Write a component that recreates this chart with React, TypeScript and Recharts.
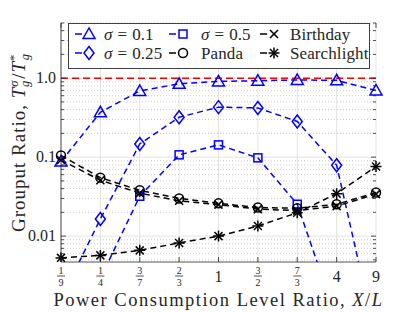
import React from 'react';
import { LineChart, Line, XAxis, YAxis, CartesianGrid, ReferenceLine, Legend, Label } from 'recharts';

// ---------- data ----------
const ratioLabels = ['1/9', '1/4', '3/7', '2/3', '1', '3/2', '7/3', '4', '9'];
const sigma01 = [0.088, 0.37, 0.69, 0.85, 0.91, 0.93, 0.95, 0.94, 0.7];
const sigma025 = [0.0016, 0.0165, 0.147, 0.32, 0.43, 0.42, 0.283, 0.079, 0.0005];
const sigma05 = [0.0002, 0.0029, 0.032, 0.107, 0.143, 0.098, 0.0253, 0.0009, 0.00001];
const birthday = [0.092, 0.051, 0.035, 0.028, 0.025, 0.022, 0.021, 0.024, 0.034];
const panda = [0.105, 0.055, 0.038, 0.03, 0.026, 0.023, 0.0225, 0.0253, 0.0356];
const searchlight = [0.0053, 0.0057, 0.0066, 0.0082, 0.01, 0.0134, 0.0198, 0.0345, 0.076];

const majorTicks = [0.01, 0.1, 1];
const majorTickLabels = ['0.01', '0.1', '1.0'];
const minorTicks = [
  0.005, 0.006, 0.007, 0.008, 0.009,
  0.02, 0.03, 0.04, 0.05, 0.06, 0.07, 0.08, 0.09,
  0.2, 0.3, 0.4, 0.5, 0.6, 0.7, 0.8, 0.9,
  2, 3, 4, 5,
];
const yDomain = [0.0047, 5];
const optimumLine = 1;

const seriesNames = ['σ = 0.1', 'σ = 0.25', 'σ = 0.5', 'Panda', 'Birthday', 'Searchlight'];

const data = ratioLabels.map((x, i) => ({
  x,
  s01: sigma01[i],
  s025: sigma025[i],
  s05: sigma05[i],
  birthday: birthday[i],
  panda: panda[i],
  searchlight: searchlight[i],
}));

// ---------- layout / style ----------
const W = 399;
const H = 304;
const M = { top: 15, right: 31, bottom: 0, left: 0 };
const Y_W = 53;
const X_H = 50;
const PLOT_L = M.left + Y_W;
const PLOT_T = M.top;
const PLOT_W = W - M.right - PLOT_L;
const FONT = "'Liberation Serif', 'DejaVu Serif', serif";
const TXT = '#262626';
const BLUE = '#0000ff';
const BLACK = '#000000';
const fs = (size: number, extra: any = {}) => ({ fontFamily: FONT, fontSize: size, ...extra });

// ---------- markers ----------
type MP = { cx: number; cy: number; color: string };
const Tri = ({ cx, cy, color }: MP) => (
  <polygon points={`${cx},${cy - 6} ${cx - 6},${cy + 4.5} ${cx + 6},${cy + 4.5}`} fill="none" stroke={color} strokeWidth={1.5} />
);
const Dia = ({ cx, cy, color }: MP) => (
  <polygon points={`${cx},${cy - 6.5} ${cx + 5},${cy} ${cx},${cy + 6.5} ${cx - 5},${cy}`} fill="none" stroke={color} strokeWidth={1.5} />
);
const Sq = ({ cx, cy, color }: MP) => (
  <rect x={cx - 4} y={cy - 4} width={8} height={8} fill="none" stroke={color} strokeWidth={1.5} />
);
const Circ = ({ cx, cy, color }: MP) => <circle cx={cx} cy={cy} r={4.5} fill="none" stroke={color} strokeWidth={1.5} />;
const XMark = ({ cx, cy, color }: MP) => (
  <g stroke={color} strokeWidth={1.6}>
    <line x1={cx - 4} y1={cy - 4} x2={cx + 4} y2={cy + 4} />
    <line x1={cx - 4} y1={cy + 4} x2={cx + 4} y2={cy - 4} />
  </g>
);
const Star = ({ cx, cy, color }: MP) => (
  <g stroke={color} strokeWidth={1.5}>
    <line x1={cx} y1={cy - 5.5} x2={cx} y2={cy + 5.5} />
    <line x1={cx - 5.5} y1={cy} x2={cx + 5.5} y2={cy} />
    <line x1={cx - 4} y1={cy - 4} x2={cx + 4} y2={cy + 4} />
    <line x1={cx - 4} y1={cy + 4} x2={cx + 4} y2={cy - 4} />
  </g>
);

const dotOf = (Mk: any, color: string) => (p: any) => {
  if (p.cx == null || p.cy == null || !isFinite(p.cx) || !isFinite(p.cy)) return <g key={p.index} />;
  return (
    <g key={p.index}>
      <Mk cx={p.cx} cy={p.cy} color={color} />
    </g>
  );
};

// ---------- ticks ----------
const XTick = (props: any) => {
  const { x, y, payload } = props;
  const v = String(payload.value);
  const parts = v.split('/');
  const marks = (
    <>
      <line x1={x} x2={x} y1={y} y2={y - 5} stroke={TXT} strokeWidth={0.8} />
      <line x1={x} x2={x} y1={PLOT_T} y2={PLOT_T + 5} stroke={TXT} strokeWidth={0.8} />
    </>
  );
  if (parts.length === 2) {
    return (
      <g>
        {marks}
        <text x={x} y={y + 11.5} textAnchor="middle" style={fs(10)} fill={TXT}>{parts[0]}</text>
        <line x1={x - 4} x2={x + 4} y1={y + 14} y2={y + 14} stroke={TXT} strokeWidth={0.8} />
        <text x={x} y={y + 23.5} textAnchor="middle" style={fs(10)} fill={TXT}>{parts[1]}</text>
      </g>
    );
  }
  return (
    <g>
      {marks}
      <text x={x} y={y + 20} textAnchor="middle" style={fs(16)} fill={TXT}>{v}</text>
    </g>
  );
};

const YTick = (props: any) => {
  const { x, y, payload } = props;
  const v = payload.value;
  const mi = majorTicks.indexOf(v);
  const left = x + 5;
  const right = left + PLOT_W;
  const len = mi >= 0 ? 5 : 3;
  return (
    <g>
      <line x1={left} x2={left + len} y1={y} y2={y} stroke={TXT} strokeWidth={0.8} />
      <line x1={right} x2={right - len} y1={y} y2={y} stroke={TXT} strokeWidth={0.8} />
      {mi >= 0 && (
        <text x={x} y={y + 5} textAnchor="end" style={fs(16)} fill={TXT}>{majorTickLabels[mi]}</text>
      )}
    </g>
  );
};

const YLabel = (props: any) => {
  const vb = props.viewBox || { x: 0, y: PLOT_T, width: Y_W, height: 239 };
  const cy = vb.y + vb.height / 2;
  const cx = 17;
  return (
    <text transform={`translate(${cx},${cy}) rotate(-90)`} textAnchor="middle" style={fs(19, { letterSpacing: 1.0 })} fill={TXT}>
      <tspan>Grouput Ratio, </tspan>
      <tspan fontStyle="italic">T</tspan>
      <tspan fontStyle="italic" fontSize={12.5} dy={-7.5}>σ</tspan>
      <tspan fontStyle="italic" fontSize={12.5} dx={-7.5} dy={11.5}>g</tspan>
      <tspan dy={-4} dx={1}>/</tspan>
      <tspan fontStyle="italic">T</tspan>
      <tspan fontSize={12.5} dy={-7.5}>*</tspan>
      <tspan fontStyle="italic" fontSize={12.5} dx={-6.5} dy={11.5}>g</tspan>
    </text>
  );
};

const XLabel = (props: any) => {
  const vb = props.viewBox || { x: PLOT_L, y: 254, width: PLOT_W, height: X_H };
  const cx = vb.x + vb.width / 2;
  return (
    <text x={cx} y={297.5} textAnchor="middle" style={fs(18.5, { letterSpacing: 1.5 })} fill={TXT}>
      <tspan>Power Consumption Level Ratio, </tspan>
      <tspan fontStyle="italic">X</tspan>
      <tspan>/</tspan>
      <tspan fontStyle="italic">L</tspan>
    </text>
  );
};

// ---------- legend ----------
const legendItems = [
  { name: seriesNames[0], Mk: Tri, color: BLUE, col: 0, row: 0 },
  { name: seriesNames[1], Mk: Dia, color: BLUE, col: 0, row: 1 },
  { name: seriesNames[2], Mk: Sq, color: BLUE, col: 1, row: 0 },
  { name: seriesNames[3], Mk: Circ, color: BLACK, col: 1, row: 1 },
  { name: seriesNames[4], Mk: XMark, color: BLACK, col: 2, row: 0 },
  { name: seriesNames[5], Mk: Star, color: BLACK, col: 2, row: 1 },
];
const LEG_COL_CX = [20, 114, 205];
const LEG_COL_TX = [35, 132, 221];
const LEG_ROW_CY = [10, 29];

const LegendContent = () => (
  <div style={{ width: 302, height: 46, boxSizing: 'border-box', border: '1px solid #404040', background: '#fff' }}>
    <svg width={300} height={44} style={{ display: 'block' }}>
      {legendItems.map((it, i) => {
        const cx = LEG_COL_CX[it.col];
        const cy = LEG_ROW_CY[it.row];
        const tx = LEG_COL_TX[it.col];
        const m = it.name.match(/^σ = (.*)$/);
        return (
          <g key={i}>
            <line x1={cx - 14} x2={cx - 7} y1={cy} y2={cy} stroke={it.color} strokeWidth={1.5} />
            <it.Mk cx={cx} cy={cy} color={it.color} />
            <text x={tx} y={cy + 5.5} style={fs(17, { letterSpacing: 0.1 })} fill={TXT}>
              {m ? (
                <>
                  <tspan fontStyle="italic">σ</tspan>
                  <tspan dx={5}>=</tspan>
                  <tspan dx={5}>{m[1]}</tspan>
                </>
              ) : (
                it.name
              )}
            </text>
          </g>
        );
      })}
    </svg>
  </div>
);

export default function App() {
  return (
    <LineChart width={W} height={H} data={data} margin={M}>
      <CartesianGrid horizontal={false} stroke="#dcdcdc" strokeWidth={0.8} />
      <CartesianGrid vertical={false} horizontalValues={minorTicks} stroke="#bdbdbd" strokeDasharray="1 2" strokeWidth={0.8} />
      <CartesianGrid vertical={false} horizontalValues={majorTicks} stroke="#dcdcdc" strokeWidth={0.8} />
      <XAxis
        dataKey="x"
        type="category"
        height={X_H}
        interval={0}
        tick={<XTick />}
        tickLine={false}
        tickSize={0}
        tickMargin={0}
        axisLine={{ stroke: TXT, strokeWidth: 0.8 }}
      >
        <Label content={<XLabel />} />
      </XAxis>
      <XAxis xAxisId="top" dataKey="x" orientation="top" height={0} tick={false} tickLine={false} axisLine={{ stroke: TXT, strokeWidth: 0.8 }} />
      <YAxis
        scale="log"
        type="number"
        domain={yDomain}
        allowDataOverflow
        ticks={[...minorTicks, ...majorTicks].sort((a, b) => a - b)}
        interval={0}
        width={Y_W}
        tick={<YTick />}
        tickLine={false}
        tickSize={0}
        tickMargin={5}
        axisLine={{ stroke: TXT, strokeWidth: 0.8 }}
      >
        <Label content={<YLabel />} />
      </YAxis>
      <YAxis yAxisId="right" orientation="right" width={0} tick={false} tickLine={false} axisLine={{ stroke: TXT, strokeWidth: 0.8 }} />
      <ReferenceLine y={optimumLine} stroke="#ff0000" strokeWidth={1.6} strokeDasharray="7 4" />
      <Line dataKey="s01" stroke={BLUE} strokeWidth={1.5} strokeDasharray="6 4" dot={dotOf(Tri, BLUE)} isAnimationActive={false} />
      <Line dataKey="s025" stroke={BLUE} strokeWidth={1.5} strokeDasharray="6 4" dot={dotOf(Dia, BLUE)} isAnimationActive={false} />
      <Line dataKey="s05" stroke={BLUE} strokeWidth={1.5} strokeDasharray="6 4" dot={dotOf(Sq, BLUE)} isAnimationActive={false} />
      <Line dataKey="panda" stroke={BLACK} strokeWidth={1.5} strokeDasharray="6 4" dot={dotOf(Circ, BLACK)} isAnimationActive={false} />
      <Line dataKey="birthday" stroke={BLACK} strokeWidth={1.5} strokeDasharray="6 4" dot={dotOf(XMark, BLACK)} isAnimationActive={false} />
      <Line dataKey="searchlight" stroke={BLACK} strokeWidth={1.5} strokeDasharray="6 4" dot={dotOf(Star, BLACK)} isAnimationActive={false} />
      <Legend
        layout="horizontal"
        verticalAlign="middle"
        align="center"
        wrapperStyle={{ left: 60, top: 15, width: 302, height: 46 }}
        content={<LegendContent />}
      />
    </LineChart>
  );
}
